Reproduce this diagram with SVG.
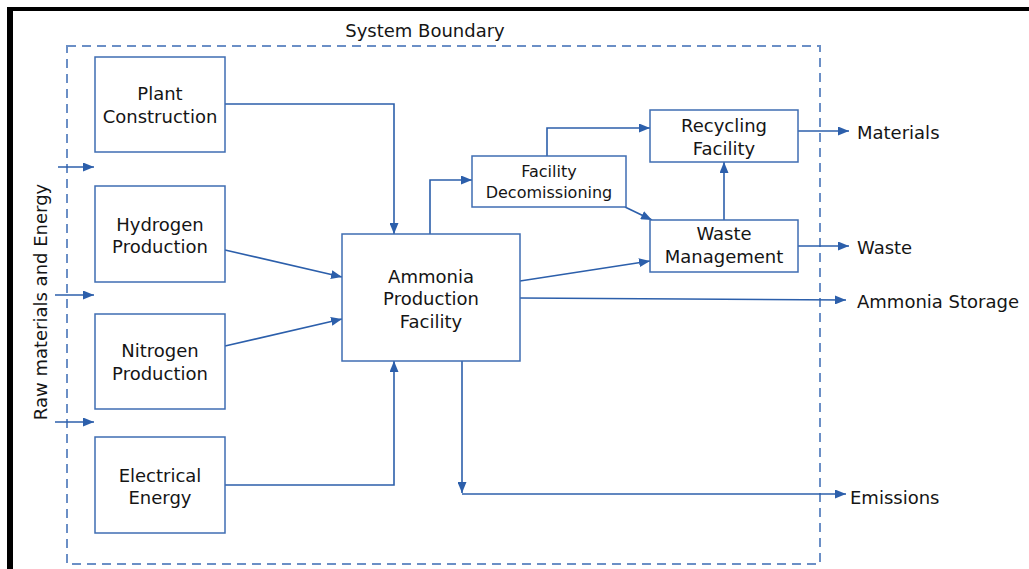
<svg xmlns="http://www.w3.org/2000/svg" width="1029" height="569" viewBox="0 0 1029 569">
  <style>
    .box { fill: #ffffff; stroke: #3f6db3; stroke-width: 1.5; }
    .lbl { font-family: "DejaVu Sans", "Liberation Sans", sans-serif; font-size: 18px; fill: #151515; text-anchor: middle; }
    .sm { font-size: 16px; }
    .out { text-anchor: start; }
    .wire { fill: none; stroke: #2c5fab; stroke-width: 1.6; }
    .bound { fill: none; stroke: #6b8fc6; stroke-width: 2; stroke-dasharray: 9 6; }
  </style>
  <defs>
    <marker id="arrow" viewBox="0 0 11 9" refX="11" refY="4.5" markerWidth="11" markerHeight="9" markerUnits="userSpaceOnUse" orient="auto">
      <path d="M0,0 L11,4.5 L0,9 Z" fill="#2c5fab"/>
    </marker>
  </defs>

  <rect width="1029" height="569" fill="#ffffff"/>
  <!-- frame edges -->
  <rect x="7" y="7" width="1022" height="4" fill="#000000"/>
  <rect x="7" y="7" width="6" height="562" fill="#000000"/>

  <!-- system boundary -->
  <g id="boundary">
    <rect class="bound" x="67" y="46" width="753" height="518"/>
    <text class="lbl" x="425" y="37">System Boundary</text>
  </g>

  <text class="lbl" transform="translate(47,302) rotate(-90)">Raw materials and Energy</text>

  <g id="connectors">
    <polyline class="wire" points="225,104 394,104 394,234" marker-end="url(#arrow)"/>
    <line class="wire" x1="225" y1="250" x2="342" y2="277" marker-end="url(#arrow)"/>
    <line class="wire" x1="225" y1="346" x2="342" y2="319" marker-end="url(#arrow)"/>
    <polyline class="wire" points="225,485 394,485 394,361" marker-end="url(#arrow)"/>
    <polyline class="wire" points="430,234 430,180 472,180" marker-end="url(#arrow)"/>
    <polyline class="wire" points="547,156 547,128 650,128" marker-end="url(#arrow)"/>
    <line class="wire" x1="625" y1="207" x2="652" y2="220" marker-end="url(#arrow)"/>
    <line class="wire" x1="520" y1="281" x2="650" y2="261" marker-end="url(#arrow)"/>
    <line class="wire" x1="520" y1="298" x2="846" y2="300" marker-end="url(#arrow)"/>
    <line class="wire" x1="724" y1="220" x2="724" y2="162" marker-end="url(#arrow)"/>
    <line class="wire" x1="798" y1="131" x2="849" y2="131" marker-end="url(#arrow)"/>
    <line class="wire" x1="798" y1="246" x2="849" y2="246" marker-end="url(#arrow)"/>
    <line class="wire" x1="462" y1="361" x2="462" y2="493" marker-end="url(#arrow)"/>
    <line class="wire" x1="462" y1="494" x2="846" y2="494" marker-end="url(#arrow)"/>
    <line class="wire" x1="58" y1="167" x2="94" y2="167" marker-end="url(#arrow)"/>
    <line class="wire" x1="55" y1="295" x2="94" y2="295" marker-end="url(#arrow)"/>
    <line class="wire" x1="55" y1="422" x2="94" y2="422" marker-end="url(#arrow)"/>
  </g>

  <g id="plant-construction">
    <rect class="box" x="95" y="57" width="130" height="95"/>
    <text class="lbl" x="160" y="100">Plant</text>
    <text class="lbl" x="160" y="123">Construction</text>
  </g>
  <g id="hydrogen-production">
    <rect class="box" x="95" y="186" width="130" height="96"/>
    <text class="lbl" x="160" y="231">Hydrogen</text>
    <text class="lbl" x="160" y="253">Production</text>
  </g>
  <g id="nitrogen-production">
    <rect class="box" x="95" y="314" width="130" height="95"/>
    <text class="lbl" x="160" y="357">Nitrogen</text>
    <text class="lbl" x="160" y="380">Production</text>
  </g>
  <g id="electrical-energy">
    <rect class="box" x="95" y="437" width="130" height="96"/>
    <text class="lbl" x="160" y="482">Electrical</text>
    <text class="lbl" x="160" y="504">Energy</text>
  </g>
  <g id="ammonia-production">
    <rect class="box" x="342" y="234" width="178" height="127"/>
    <text class="lbl" x="431" y="283">Ammonia</text>
    <text class="lbl" x="431" y="305">Production</text>
    <text class="lbl" x="431" y="328">Facility</text>
  </g>
  <g id="facility-decomissioning">
    <rect class="box" x="472" y="156" width="154" height="51"/>
    <text class="lbl sm" x="549" y="177">Facility</text>
    <text class="lbl sm" x="549" y="198">Decomissioning</text>
  </g>
  <g id="recycling-facility">
    <rect class="box" x="650" y="110" width="148" height="52"/>
    <text class="lbl" x="724" y="132">Recycling</text>
    <text class="lbl" x="724" y="155">Facility</text>
  </g>
  <g id="waste-management">
    <rect class="box" x="650" y="220" width="148" height="52"/>
    <text class="lbl" x="724" y="240">Waste</text>
    <text class="lbl" x="724" y="263">Management</text>
  </g>

  <g id="outputs">
    <text class="lbl out" x="857" y="139">Materials</text>
    <text class="lbl out" x="857" y="254">Waste</text>
    <text class="lbl out" x="857" y="308">Ammonia Storage</text>
    <text class="lbl out" x="850" y="504">Emissions</text>
  </g>
</svg>
